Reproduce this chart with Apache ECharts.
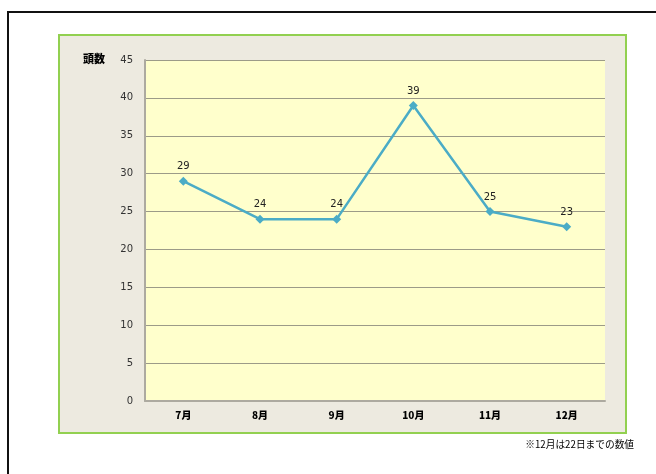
<!DOCTYPE html>
<html>
<head>
<meta charset="utf-8">
<script src="https://cdn.jsdelivr.net/npm/echarts@6/dist/echarts.min.js"></script>
<style>
  html, body { margin: 0; padding: 0; background: #ffffff; }
  #chart { width: 656px; height: 474px; }
</style>
</head>
<body>
<div id="chart"></div>
<script>
// Monthly head counts
const months = ['7月', '8月', '9月', '10月', '11月', '12月'];
const headCounts = [29, 24, 24, 39, 25, 23];
const yAxisTitle = '頭数';
const footnote = '※12月は22日までの数値';

const chart = echarts.init(document.getElementById('chart'));
const jpFont = '"Noto Sans CJK JP", "DejaVu Sans", sans-serif';

chart.setOption({
  animation: false,
  backgroundColor: '#ffffff',
  graphic: [
    // outer frame
    { type: 'rect', z: -10, shape: { x: 8, y: 12, width: 700, height: 520 },
      style: { fill: '#ffffff', stroke: '#111111', lineWidth: 2 } },
    // chart panel
    { type: 'rect', z: -9, shape: { x: 59, y: 35, width: 567, height: 398 },
      style: { fill: '#EDEAE0', stroke: '#92D050', lineWidth: 2 } },
    { type: 'text', z: 10, left: 83, top: 53,
      style: { text: yAxisTitle, font: '900 11px ' + jpFont, fill: '#000000' } },
    { type: 'text', z: 10, right: 22, top: 439,
      style: { text: footnote, font: '9.7px ' + jpFont, fill: '#000000' } }
  ],
  grid: {
    left: 145, right: 51, top: 60, bottom: 73,
    show: true, backgroundColor: '#FFFFCC', borderWidth: 0
  },
  xAxis: {
    type: 'category',
    data: months,
    boundaryGap: true,
    axisLine: { show: true, lineStyle: { color: '#ADAAA0', width: 2 } },
    axisTick: { show: false },
    axisLabel: { color: '#000000', fontSize: 10, fontWeight: 900, fontFamily: jpFont, margin: 9 }
  },
  yAxis: {
    type: 'value',
    min: 0, max: 45, interval: 5,
    axisLine: { show: true, lineStyle: { color: '#ADAAA0', width: 2 } },
    axisTick: { show: false },
    splitLine: { show: true, lineStyle: { color: '#9C9B88', width: 1 } },
    axisLabel: { color: '#333333', fontSize: 10, fontFamily: '"DejaVu Sans", sans-serif', margin: 12 }
  },
  series: [{
    type: 'line',
    data: headCounts,
    symbol: 'diamond',
    symbolSize: 9,
    lineStyle: { color: '#4BACC6', width: 2.5 },
    itemStyle: { color: '#4BACC6' },
    label: {
      show: true, position: 'top', distance: 5,
      color: '#222222', fontSize: 10, fontFamily: '"DejaVu Sans", sans-serif'
    }
  }]
});
</script>
</body>
</html>
